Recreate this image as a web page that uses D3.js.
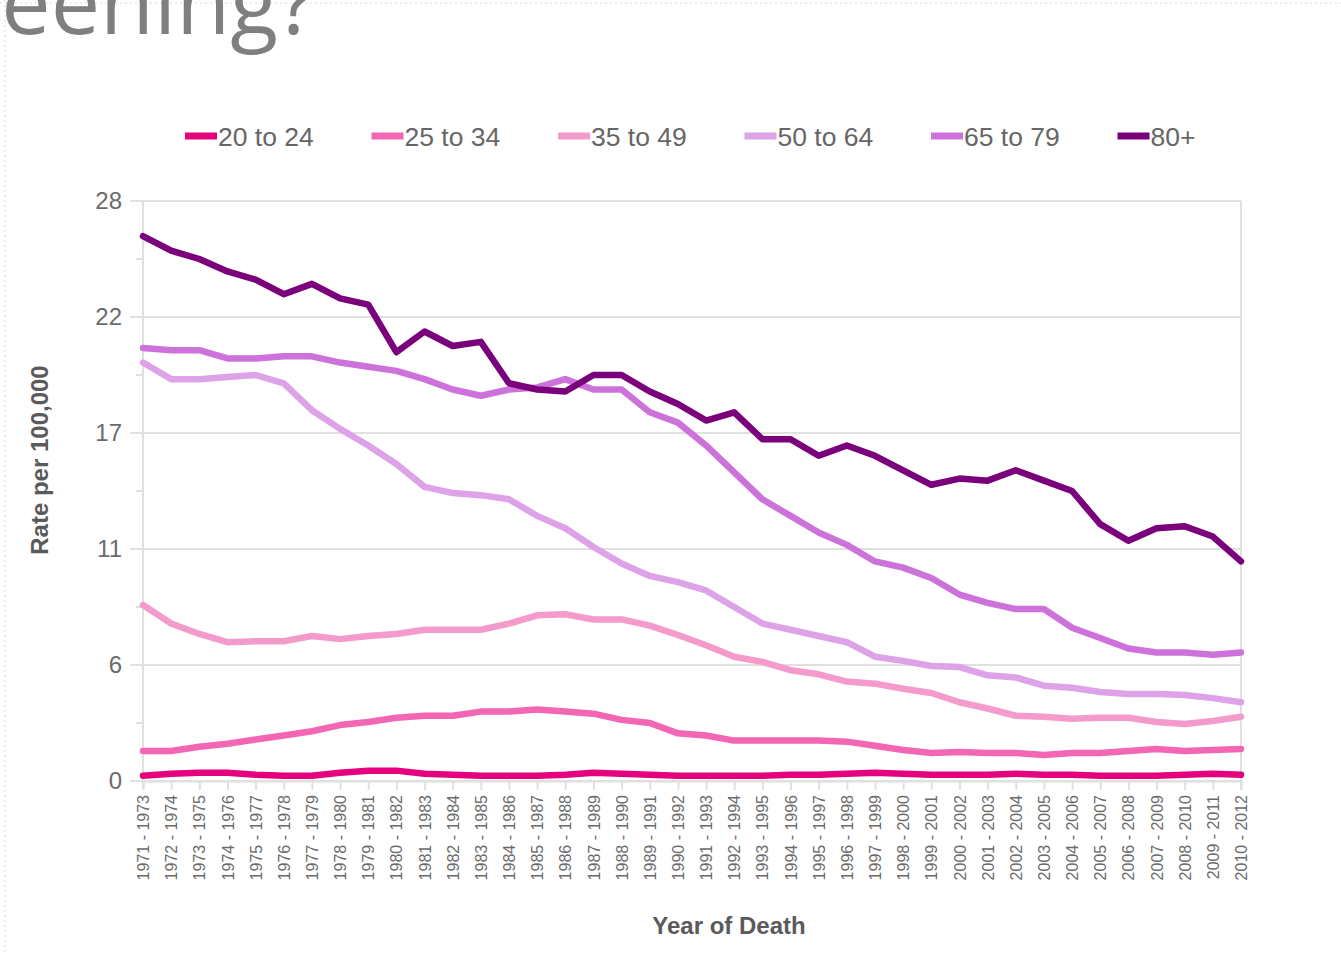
<!DOCTYPE html>
<html>
<head>
<meta charset="utf-8">
<script src="https://cdn.jsdelivr.net/npm/d3@7"></script>
<style>
  body { margin: 0; background: #fff; }
  svg { display: block; font-family: "Liberation Sans", Arial, sans-serif; }
</style>
</head>
<body>
<svg id="chart" width="1341" height="955"></svg>
<script>
var periods = [];
for (var yr = 1971; yr <= 2010; yr++) periods.push(yr + " - " + (yr + 2));

var seriesNames = ["20 to 24", "25 to 34", "35 to 49", "50 to 64", "65 to 79", "80+"];
var seriesColors = ["#e5007d", "#f266b4", "#f59bcc", "#dda2e8", "#cd72da", "#7a007c"];

var age20to24 = [0.25, 0.35, 0.4, 0.4, 0.3, 0.25, 0.25, 0.4, 0.5, 0.5,
                 0.35, 0.3, 0.25, 0.25, 0.25, 0.3, 0.4, 0.35, 0.3, 0.25,
                 0.25, 0.25, 0.25, 0.3, 0.3, 0.35, 0.4, 0.35, 0.3, 0.3,
                 0.3, 0.35, 0.3, 0.3, 0.25, 0.25, 0.25, 0.3, 0.35, 0.3];
var age25to34 = [1.45, 1.45, 1.65, 1.8, 2.0, 2.2, 2.4, 2.7, 2.85, 3.05,
                 3.15, 3.15, 3.35, 3.35, 3.45, 3.35, 3.25, 2.95, 2.8, 2.3,
                 2.2, 1.95, 1.95, 1.95, 1.95, 1.9, 1.7, 1.5, 1.35, 1.4,
                 1.35, 1.35, 1.25, 1.35, 1.35, 1.45, 1.55, 1.45, 1.5, 1.55];
var age35to49 = [8.5, 7.6, 7.1, 6.7, 6.75, 6.75, 7.0, 6.85, 7.0, 7.1,
                 7.3, 7.3, 7.3, 7.6, 8.0, 8.05, 7.8, 7.8, 7.5, 7.05,
                 6.55, 6.0, 5.75, 5.35, 5.15, 4.8, 4.7, 4.45, 4.25, 3.8,
                 3.5, 3.15, 3.1, 3.0, 3.05, 3.05, 2.85, 2.75, 2.9, 3.1];
var age50to64 = [20.2, 19.4, 19.4, 19.5, 19.6, 19.2, 17.9, 17.0, 16.2, 15.3,
                 14.2, 13.9, 13.8, 13.6, 12.8, 12.2, 11.3, 10.5, 9.9, 9.6,
                 9.2, 8.4, 7.6, 7.3, 7.0, 6.7, 6.0, 5.8, 5.55, 5.5,
                 5.1, 5.0, 4.6, 4.5, 4.3, 4.2, 4.2, 4.15, 4.0, 3.8];
var age65to79 = [20.9, 20.8, 20.8, 20.4, 20.4, 20.5, 20.5, 20.2, 20.0, 19.8,
                 19.4, 18.9, 18.6, 18.9, 19.0, 19.4, 18.9, 18.9, 17.8, 17.3,
                 16.2, 14.9, 13.6, 12.8, 12.0, 11.4, 10.6, 10.3, 9.8, 9.0,
                 8.6, 8.3, 8.3, 7.4, 6.9, 6.4, 6.2, 6.2, 6.1, 6.2];
var age80plus = [26.3, 25.6, 25.2, 24.6, 24.2, 23.5, 24.0, 23.3, 23.0, 20.7,
                 21.7, 21.0, 21.2, 19.2, 18.9, 18.8, 19.6, 19.6, 18.8, 18.2,
                 17.4, 17.8, 16.5, 16.5, 15.7, 16.2, 15.7, 15.0, 14.3, 14.6,
                 14.5, 15.0, 14.5, 14.0, 12.4, 11.6, 12.2, 12.3, 11.8, 10.6];

var yTickValues = [0, 5.6, 11.2, 16.8, 22.4, 28];
var yTickLabels = ["0", "6", "11", "17", "22", "28"];
var yMinorTicks = [2.8, 8.4, 14, 19.6, 25.2];

var allSeries = [age20to24, age25to34, age35to49, age50to64, age65to79, age80plus];

var svg = d3.select("#chart");
var plotLeft = 143, plotRight = 1241, plotTop = 201, plotBottom = 781;

// slide remnants: dotted placeholder border and cut-off title
svg.append("line")
    .attr("x1", 5).attr("y1", 0).attr("x2", 5).attr("y2", 955)
    .attr("stroke", "#e6e6e6").attr("stroke-width", 1.5)
    .attr("stroke-dasharray", "2,3");
svg.append("line")
    .attr("x1", 0).attr("y1", 3).attr("x2", 1341).attr("y2", 3)
    .attr("stroke", "#e6e6e6").attr("stroke-width", 1.5)
    .attr("stroke-dasharray", "2,3");
svg.append("text")
    .attr("x", 316).attr("y", 34)
    .attr("text-anchor", "end")
    .style("font-family", "'Open Sans', sans-serif")
    .style("font-size", "88px")
    .attr("fill", "#7f7f7f")
    .text("eening?");

var x = d3.scalePoint()
    .domain(periods)
    .range([plotLeft, plotRight]);

var yScale = d3.scaleLinear()
    .domain([0, 28])
    .range([plotBottom, plotTop]);

// gridlines
svg.append("g")
    .selectAll("line")
    .data(yTickValues)
    .enter()
    .append("line")
    .attr("x1", 130).attr("x2", plotRight)
    .attr("y1", d => yScale(d)).attr("y2", d => yScale(d))
    .attr("stroke", "#e0e0e0").attr("stroke-width", 2);

svg.append("g")
    .selectAll("line")
    .data(yMinorTicks)
    .enter()
    .append("line")
    .attr("x1", 136).attr("x2", plotLeft)
    .attr("y1", d => yScale(d)).attr("y2", d => yScale(d))
    .attr("stroke", "#e0e0e0").attr("stroke-width", 2);

svg.append("line")
    .attr("x1", plotLeft).attr("x2", plotLeft).attr("y1", plotTop).attr("y2", plotBottom + 8)
    .attr("stroke", "#e0e0e0").attr("stroke-width", 2);
svg.append("line")
    .attr("x1", plotRight).attr("x2", plotRight).attr("y1", plotTop).attr("y2", plotBottom + 8)
    .attr("stroke", "#e0e0e0").attr("stroke-width", 2);

// y labels
var yAxis = d3.axisLeft(yScale)
    .tickValues(yTickValues)
    .tickFormat((d, i) => yTickLabels[i])
    .tickSize(0)
    .tickPadding(17);
var yG = svg.append("g")
    .attr("transform", "translate(" + (plotLeft - 4) + ",0)")
    .call(yAxis);
yG.select(".domain").remove();
yG.selectAll("text")
    .attr("fill", "#6b6b6b")
    .style("font-size", "24px")
    .style("font-family", "'Liberation Sans', Arial, sans-serif");

// x axis
var xAxis = d3.axisBottom(x)
    .tickSize(9)
    .tickPadding(6);
var xG = svg.append("g")
    .attr("transform", "translate(0," + plotBottom + ")")
    .call(xAxis);
xG.select(".domain")
    .attr("stroke", "#e0e0e0").attr("stroke-width", 2);
xG.selectAll(".tick line")
    .attr("stroke", "#e0e0e0").attr("stroke-width", 2);
xG.selectAll("text")
    .attr("transform", "rotate(-90)")
    .attr("text-anchor", "end")
    .attr("x", -14).attr("y", 0).attr("dy", "0.35em")
    .attr("fill", "#6b6b6b")
    .style("font-size", "16px")
    .style("font-family", "'Liberation Sans', Arial, sans-serif");

// lines
var line = d3.line()
    .x((d, i) => x(periods[i]))
    .y(d => yScale(d));

svg.append("g")
    .selectAll("path")
    .data(allSeries)
    .enter()
    .append("path")
    .attr("d", line)
    .attr("fill", "none")
    .attr("stroke", (d, i) => seriesColors[i])
    .attr("stroke-width", 6.5)
    .attr("stroke-linejoin", "round")
    .attr("stroke-linecap", "round");

// legend
var legend = svg.append("g")
    .selectAll("g")
    .data(seriesNames)
    .enter()
    .append("g")
    .attr("transform", (d, i) => "translate(" + (185 + i * 186.5) + ",136)");
legend.append("rect")
    .attr("x", 0).attr("y", -3.5)
    .attr("width", 32).attr("height", 7)
    .attr("fill", (d, i) => seriesColors[i]);
legend.append("text")
    .attr("x", 33).attr("dy", "0.36em")
    .attr("fill", "#666")
    .style("font-size", "26.5px")
    .text(d => d);

// axis titles
svg.append("text")
    .attr("transform", "translate(48,460) rotate(-90)")
    .attr("text-anchor", "middle")
    .attr("fill", "#5a5a5a")
    .style("font-size", "24px")
    .style("font-weight", "bold")
    .text("Rate per 100,000");

svg.append("text")
    .attr("x", 729).attr("y", 934)
    .attr("text-anchor", "middle")
    .attr("fill", "#5a5a5a")
    .style("font-size", "24px")
    .style("font-weight", "bold")
    .text("Year of Death");
</script>
</body>
</html>
